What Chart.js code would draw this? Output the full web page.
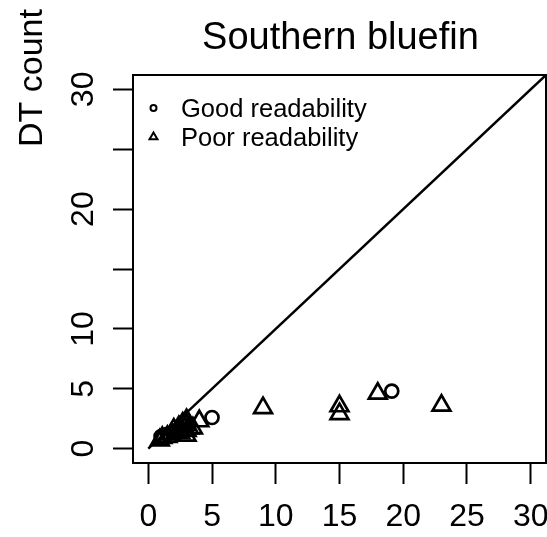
<!DOCTYPE html>
<html><head><meta charset="utf-8">
<script src="https://cdn.jsdelivr.net/npm/chart.js@4"></script>
<style>html,body{margin:0;padding:0;background:#fff}#wrap{width:547px;height:537px}</style>
</head><body><div id="wrap"><canvas id="c" width="547" height="537"></canvas></div>
<script>
const chartTitle = 'Southern bluefin';
const yAxisTitle = 'DT count';
const seriesNames = ['Good readability', 'Poor readability'];
const goodX = [1.0, 1.5, 2.0, 2.5, 3.0, 5.0, 19.1];
const goodY = [1.0, 1.2, 1.4, 1.7, 1.9, 2.6, 4.8];
const poorX = [0.9, 1.1, 1.5, 1.8, 2.0, 2.2, 2.4, 2.5, 2.7, 3.0, 3.0, 3.0, 3.0, 3.2, 3.5, 4.0, 9.0, 15.0, 15.0, 18.0, 23.0];
const poorY = [0.7, 0.9, 1.0, 1.2, 1.6, 1.4, 1.8, 1.3, 2.1, 1.1, 1.5, 2.0, 2.4, 1.7, 1.7, 2.3, 3.4, 3.55, 2.9, 4.6, 3.6];
const xTicks = [0, 5, 10, 15, 20, 25, 30];
const xTickLabels = ['0', '5', '10', '15', '20', '25', '30'];
const yTicks = [0, 5, 10, 15, 20, 25, 30];
const yTickLabels = ['0', '5', '10', '', '20', '', '30'];
const axisMin = -1.2, axisMax = 31.2;
const diagX = [0, 31.2];
const diagY = [0, 31.2];

const FONT = '"Liberation Sans", Arial, sans-serif';
const toPts = (xs, ys) => xs.map((x, i) => ({x: x, y: ys[i]}));

const overlay = {
  id: 'overlay',
  afterDraw(chart) {
    const ctx = chart.ctx, a = chart.chartArea;
    const ys = chart.scales.y;
    ctx.save();
    ctx.strokeStyle = '#000';
    ctx.lineWidth = 2;
    ctx.strokeRect(a.left, a.top, a.right - a.left, a.bottom - a.top);
    ctx.fillStyle = '#000';
    // title
    ctx.font = '38px ' + FONT;
    ctx.textAlign = 'center';
    ctx.textBaseline = 'alphabetic';
    ctx.fillText(chartTitle, (a.left + a.right) / 2 + 1, 49);
    // y tick labels rotated
    ctx.font = '32px ' + FONT;
    yTicks.forEach((v, i) => {
      const t = yTickLabels[i];
      if (!t) return;
      const py = ys.getPixelForValue(v);
      ctx.save();
      ctx.translate(93, py);
      ctx.rotate(-Math.PI / 2);
      ctx.textAlign = 'center';
      ctx.textBaseline = 'alphabetic';
      ctx.fillText(t, 0, 0);
      ctx.restore();
    });
    // y axis title
    ctx.font = '34px ' + FONT;
    ctx.save();
    ctx.translate(42, 78);
    ctx.rotate(-Math.PI / 2);
    ctx.textAlign = 'center';
    ctx.textBaseline = 'alphabetic';
    ctx.fillText(yAxisTitle, 0, 0);
    ctx.restore();
    // legend
    const rows = [{style: 'circle', r: 3, y: 117}, {style: 'triangle', r: 4.6, y: 146}];
    rows.forEach((row, i) => {
      ctx.lineWidth = 2;
      ctx.strokeStyle = '#000';
      ctx.fillStyle = 'rgba(0,0,0,0)';
      Chart.helpers.drawPoint(ctx, {pointStyle: row.style, radius: row.r, rotation: 0, borderWidth: 2}, 153.5, row.y - 9);
      ctx.fillStyle = '#000';
      ctx.font = '25.5px ' + FONT;
      ctx.textAlign = 'left';
      ctx.textBaseline = 'alphabetic';
      ctx.fillText(seriesNames[i], 181, row.y);
    });
    ctx.restore();
  }
};

const noPad = s => { s.paddingLeft = 0; s.paddingRight = 0; s.paddingTop = 0; s.paddingBottom = 0; };

new Chart(document.getElementById('c'), {
  type: 'scatter',
  data: {
    datasets: [
      {
        type: 'line', label: 'diag', data: toPts(diagX, diagY),
        borderColor: '#000', borderWidth: 2.5, pointRadius: 0, fill: false, tension: 0
      },
      {
        label: seriesNames[0], data: toPts(goodX, goodY),
        pointStyle: 'circle', pointRadius: 6.5, borderColor: '#000',
        backgroundColor: 'rgba(0,0,0,0)', borderWidth: 2.7, pointBorderWidth: 2.7
      },
      {
        label: seriesNames[1], data: toPts(poorX, poorY),
        pointStyle: 'triangle', pointRadius: 10.3, borderColor: '#000',
        backgroundColor: 'rgba(0,0,0,0)', borderWidth: 2.7, pointBorderWidth: 2.7
      }
    ]
  },
  options: {
    responsive: false, animation: false, devicePixelRatio: 1,
    layout: {autoPadding: false, padding: {top: 75, right: 1, left: 0, bottom: 0}},
    plugins: {legend: {display: false}, title: {display: false}, tooltip: {enabled: false}},
    scales: {
      x: {
        type: 'linear', min: axisMin, max: axisMax,
        afterBuildTicks: s => { s.ticks = xTicks.map(v => ({value: v})); },
        afterFit: s => { s.height = 74; noPad(s); },
        ticks: {
          callback: (v, i) => xTickLabels[i], font: {size: 32, family: FONT}, color: '#000',
          padding: 14, maxRotation: 0, minRotation: 0, autoSkip: false
        },
        grid: {drawOnChartArea: false, drawTicks: true, tickLength: 21, tickWidth: 2, tickColor: '#000'},
        border: {display: true, color: '#000', width: 2}
      },
      y: {
        type: 'linear', min: axisMin, max: axisMax,
        afterBuildTicks: s => { s.ticks = yTicks.map(v => ({value: v})); },
        afterFit: s => { s.width = 133; noPad(s); },
        ticks: {display: false},
        grid: {drawOnChartArea: false, drawTicks: true, tickLength: 20, tickWidth: 2, tickColor: '#000'},
        border: {display: true, color: '#000', width: 2}
      }
    }
  },
  plugins: [overlay]
});
</script>
</body></html>
